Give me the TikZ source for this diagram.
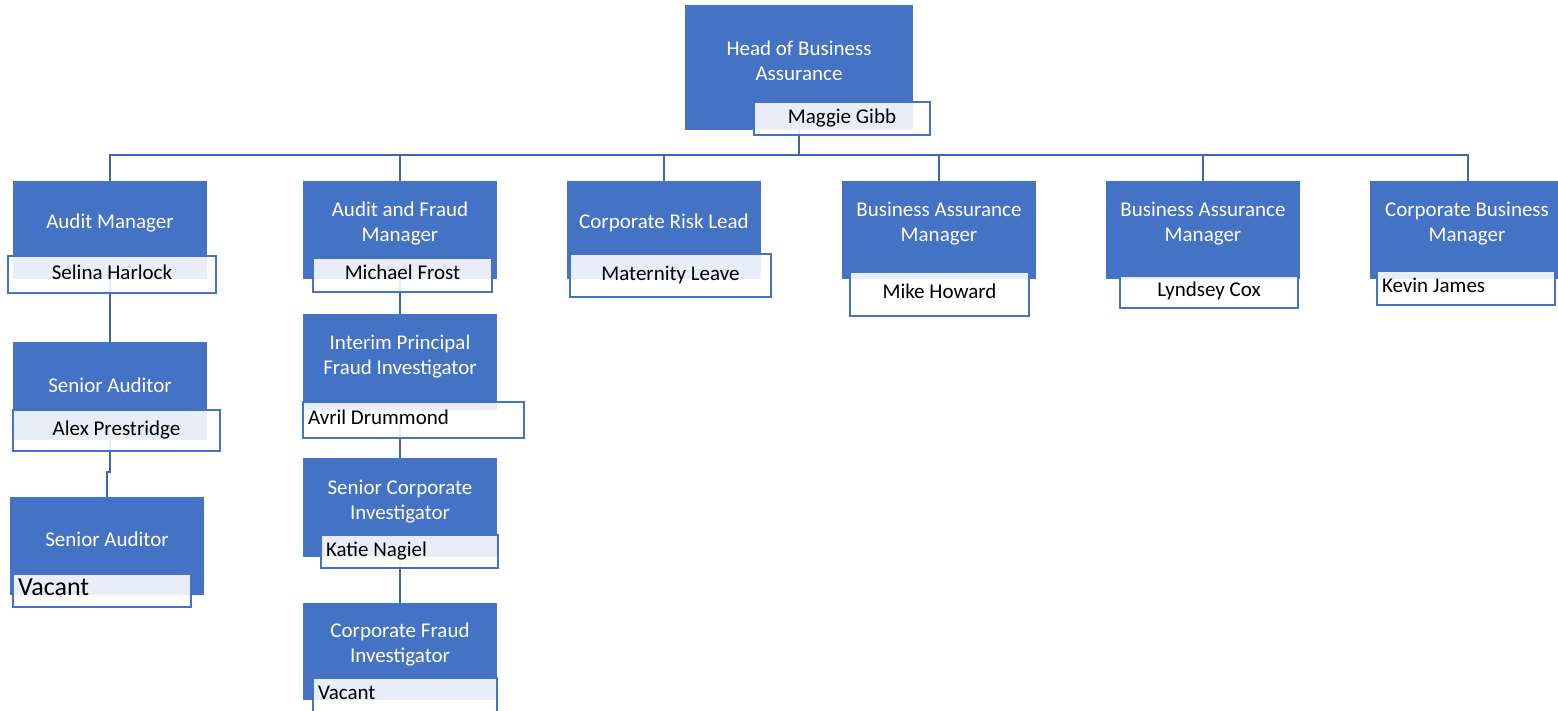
\documentclass[tikz,border=0pt]{standalone}
\usepackage{fontspec}
\setmainfont{Carlito}
\usepackage{tikz}
\usetikzlibrary{backgrounds}
\definecolor{orgblue}{RGB}{68, 114, 196}
\definecolor{linkblue}{RGB}{64, 100, 175}
\tikzset{post/.style = {fill=orgblue, minimum width=194pt, minimum height=98pt, inner sep=0pt},
         title/.style = {text=white, align=center, inner sep=0pt, font=\fontsize{21}{25}\selectfont},
         holder/.style = {draw=orgblue, line width=2pt, fill=white, fill opacity=0.88, text opacity=1,
                          inner sep=0pt, text height=14pt, text depth=5pt, font=\fontsize{21}{25}\selectfont},
         leftholder/.style = {holder, align=flush left, inner xsep=5pt},
         link/.style = {draw=linkblue, line width=2pt}}

\begin{document}
\begin{tikzpicture}[x=1pt, y=-1pt]
    \useasboundingbox (0, 0) rectangle (1558, 710);
    \clip (0, 0) rectangle (1558, 710);

    % boxes
    \node [post, minimum width=228pt, minimum height=125pt] (head) at (799, 67.5) {};
    \node [post] (am) at (110, 230) {};
    \node [post] (afm) at (400, 230) {};
    \node [post] (crl) at (664, 230) {};
    \node [post] (bam1) at (939, 230) {};
    \node [post] (bam2) at (1203, 230) {};
    \node [post, minimum width=196pt] (cbm) at (1468, 230) {};
    \node [post] (sa1) at (110, 391) {};
    \node [post] (sa2) at (107, 546) {};
    \node [post, minimum height=96pt] (ipfi) at (400, 362) {};
    \node [post, minimum height=99pt] (sci) at (400, 507.5) {};
    \node [post, minimum height=97pt] (cfi) at (400, 651.5) {};

    \node [title] (headT) at (799, 60.5) {Head of Business\\Assurance};
    \node [title] (amT) at (110, 223) {Audit Manager};
    \node [title] (afmT) at (400, 223.5) {Audit and Fraud\\Manager};
    \node [title] (crlT) at (664, 223) {Corporate Risk Lead};
    \node [title] (bam1T) at (939, 223.5) {Business Assurance\\Manager};
    \node [title] (bam2T) at (1203, 223.5) {Business Assurance\\Manager};
    \node [title] (cbmT) at (1467, 223.5) {Corporate Business\\Manager};
    \node [title] (sa1T) at (110, 385) {Senior Auditor};
    \node [title] (sa2T) at (107, 539) {Senior Auditor};
    \node [title] (ipfiT) at (400, 356.5) {Interim Principal\\Fraud Investigator};
    \node [title] (sciT) at (400, 501.5) {Senior Corporate\\Investigator};
    \node [title] (cfiT) at (400, 645) {Corporate Fraud\\Investigator};

    % lines
    \begin{scope}[on background layer]
      \draw [link] (head.south) -- ++(0, 25) coordinate (bus);
      \foreach \c in {am, afm, crl, bam1, bam2, cbm} {
        \draw [link] (bus) -| (\c.north);
      }
      \draw [link] (am.south) -- (sa1.north);
      \draw [link] (sa1.south) -- ++(0, 32) -| (sa2.north);
      \draw [link] (afm.south) -- (ipfi.north);
      \draw [link] (ipfi.south) -- (sci.north);
      \draw [link] (sci.south) -- (cfi.north);
    \end{scope}

    % names
    \node [holder, minimum width=176pt, minimum height=33pt] (headN) at (842, 118.5) {Maggie Gibb};
    \node [holder, minimum width=208pt, minimum height=37pt] (amN) at (112, 274.5) {Selina Harlock};
    \node [holder, minimum width=179pt, minimum height=34pt] (afmN) at (402.5, 275) {Michael Frost};
    \node [holder, minimum width=201pt, minimum height=43pt] (crlN) at (670.5, 275.5) {Maternity Leave};
    \node [holder, minimum width=179pt, minimum height=44pt] (bam1N) at (939.5, 294) {Mike Howard};
    \node [holder, minimum width=178pt, minimum height=32pt] (bam2N) at (1209, 292) {Lyndsey Cox};
    \node [leftholder, text width=168pt, minimum height=34pt] (cbmN) at (1466, 288) {Kevin James};
    \node [holder, minimum width=207pt, minimum height=41pt] (sa1N) at (116.5, 430.5) {Alex Prestridge};
    \node [leftholder, text width=168pt, minimum height=33pt, font=\fontsize{26}{30}\selectfont] (sa2N) at (102, 590.5) {Vacant};
    \node [leftholder, text width=211pt, minimum height=36pt] (ipfiN) at (413.5, 420) {Avril Drummond};
    \node [leftholder, text width=167pt, minimum height=33pt] (sciN) at (409.5, 551.5) {Katie Nagiel};
    \node [leftholder, text width=174pt, minimum height=34pt] (cfiN) at (405, 695) {Vacant};
\end{tikzpicture}
\end{document}
